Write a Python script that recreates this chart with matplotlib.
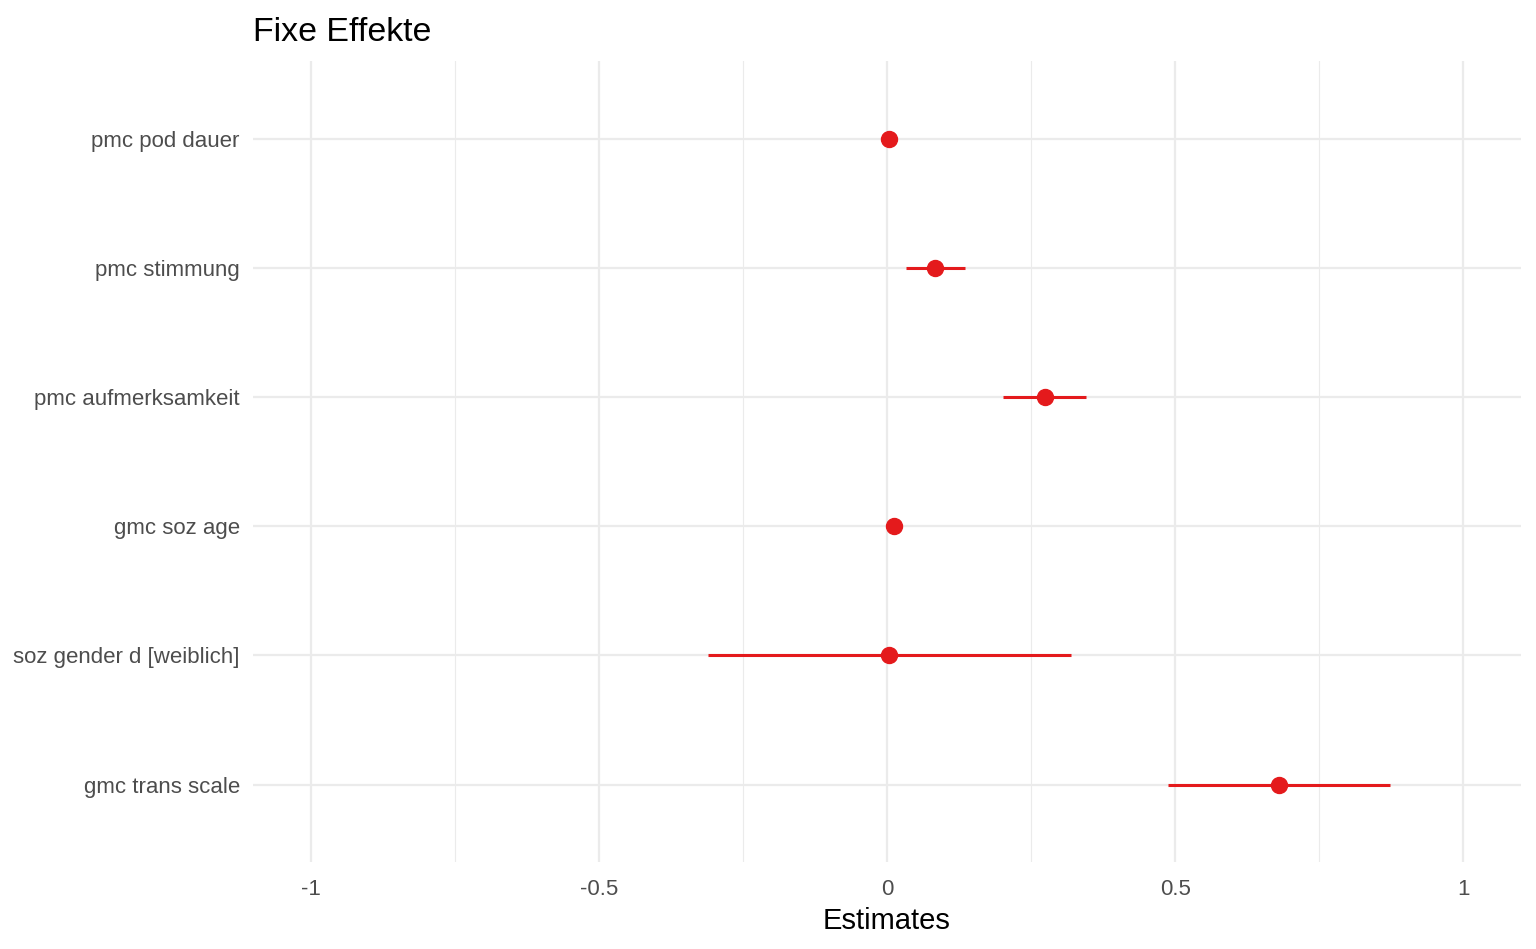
import matplotlib.pyplot as plt
from matplotlib.ticker import MultipleLocator

plt.rcParams['font.family'] = ['Liberation Sans', 'DejaVu Sans']

terms = ["pmc pod dauer", "pmc stimmung", "pmc aufmerksamkeit",
         "gmc soz age", "soz gender d [weiblich]", "gmc trans scale"]
estimates = [0.003, 0.083, 0.274, 0.013, 0.004, 0.680]
ci_low = [0.000, 0.033, 0.201, 0.010, -0.311, 0.487]
ci_high = [0.006, 0.135, 0.346, 0.016, 0.319, 0.872]

red = "#E41A1C"
grid_col = "#EBEBEB"

fig = plt.figure(figsize=(15.36, 9.49), dpi=100)
ax = fig.add_axes([0.1647, 0.0917, 0.8255, 0.8436])

n = len(terms)
ypos = [n - i for i in range(n)]

ax.hlines(ypos, ci_low, ci_high, color=red, linewidth=2.2, zorder=3)
ax.plot(estimates, ypos, "o", color=red, markersize=11.5, zorder=4)

ax.set_xlim(-1.1, 1.1)
ax.set_ylim(0.4, n + 0.6)
ax.xaxis.set_major_locator(MultipleLocator(0.5))
ax.xaxis.set_minor_locator(MultipleLocator(0.25))
ax.set_xticks([-1, -0.5, 0, 0.5, 1])
ax.set_xticklabels(["-1", "-0.5", "0", "0.5", "1"])
ax.set_yticks(ypos)
ax.set_yticklabels(terms)

ax.grid(which="major", color=grid_col, linewidth=1.6)
ax.grid(which="minor", axis="x", color=grid_col, linewidth=0.8)
ax.set_axisbelow(True)
for s in ax.spines.values():
    s.set_visible(False)
ax.tick_params(which="both", length=0)
ax.tick_params(axis="both", labelsize=16, labelcolor="#4D4D4D")
ax.tick_params(axis="y", pad=9.5)
ax.tick_params(axis="x", pad=12.5)

ax.set_xlabel("Estimates", fontsize=21, color="black", labelpad=5)
ax.set_title("Fixe Effekte", fontsize=24.4, loc="left", pad=15)

fig.savefig("out.png", dpi=100, facecolor="white")
